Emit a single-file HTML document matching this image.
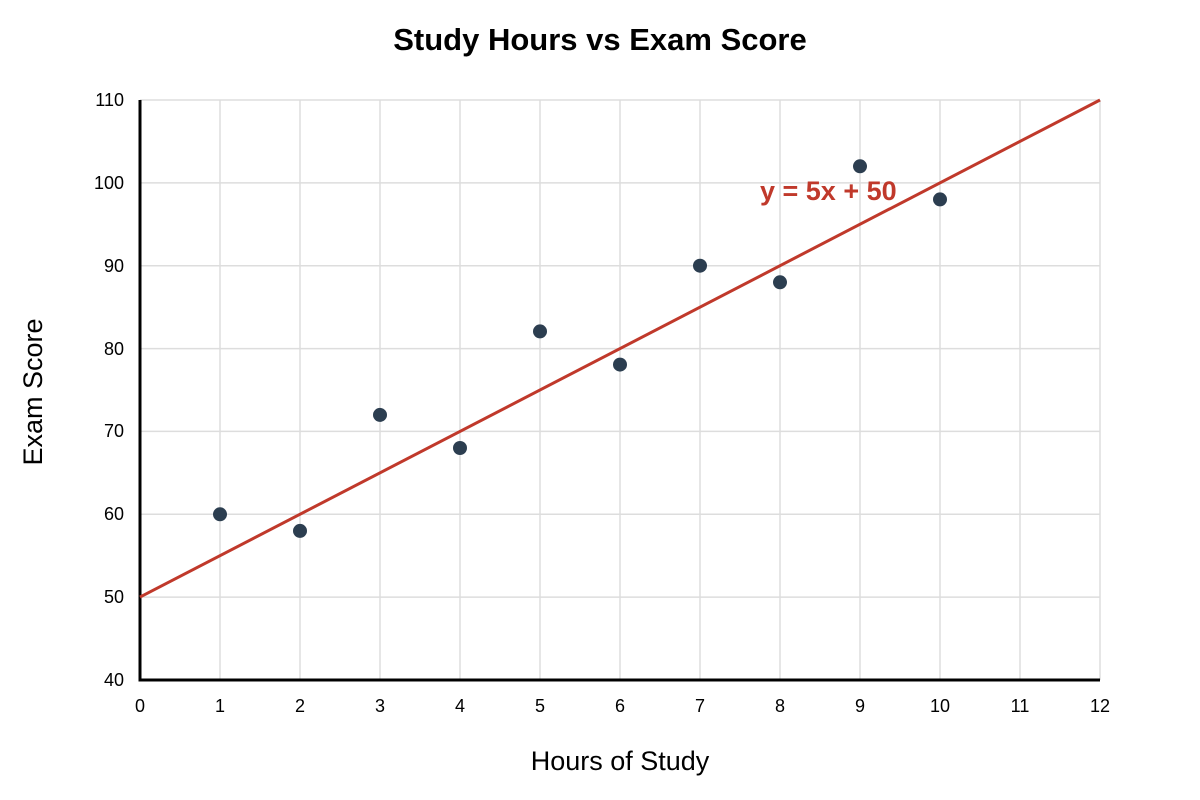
<!DOCTYPE html>
<html><head><meta charset="utf-8"><style>body{margin:0;background:#fff}svg{display:block}</style></head>
<body>
<svg width="1200" height="800" xmlns="http://www.w3.org/2000/svg" font-family="Liberation Sans, Arial, sans-serif">
<rect width="1200" height="800" fill="#fff"/>
<g stroke="#dddddd" stroke-width="1.5">
<line x1="220" y1="100" x2="220" y2="680"/><line x1="300" y1="100" x2="300" y2="680"/><line x1="380" y1="100" x2="380" y2="680"/><line x1="460" y1="100" x2="460" y2="680"/><line x1="540" y1="100" x2="540" y2="680"/><line x1="620" y1="100" x2="620" y2="680"/><line x1="700" y1="100" x2="700" y2="680"/><line x1="780" y1="100" x2="780" y2="680"/><line x1="860" y1="100" x2="860" y2="680"/><line x1="940" y1="100" x2="940" y2="680"/><line x1="1020" y1="100" x2="1020" y2="680"/><line x1="1100" y1="100" x2="1100" y2="680"/>
<line x1="140" y1="100" x2="1100" y2="100"/><line x1="140" y1="182.9" x2="1100" y2="182.9"/><line x1="140" y1="265.7" x2="1100" y2="265.7"/><line x1="140" y1="348.6" x2="1100" y2="348.6"/><line x1="140" y1="431.4" x2="1100" y2="431.4"/><line x1="140" y1="514.3" x2="1100" y2="514.3"/><line x1="140" y1="597.1" x2="1100" y2="597.1"/>
</g>
<g stroke="#000" stroke-width="3"><line x1="140" y1="100" x2="140" y2="681.5"/><line x1="138.5" y1="680" x2="1100" y2="680"/></g>
<line x1="140" y1="597.1" x2="1100" y2="100" stroke="#c0392b" stroke-width="3"/>
<g fill="#2c3e50">
<circle cx="220" cy="514.3" r="7"/><circle cx="300" cy="530.9" r="7"/><circle cx="380" cy="414.9" r="7"/><circle cx="460" cy="448" r="7"/><circle cx="540" cy="331.4" r="7"/><circle cx="620" cy="364.6" r="7"/><circle cx="700" cy="265.7" r="7"/><circle cx="780" cy="282.3" r="7"/><circle cx="860" cy="166.3" r="7"/><circle cx="940" cy="199.4" r="7"/>
</g>
<g font-size="18" fill="#000" text-anchor="middle">
<text x="140" y="712">0</text><text x="220" y="712">1</text><text x="300" y="712">2</text><text x="380" y="712">3</text><text x="460" y="712">4</text><text x="540" y="712">5</text><text x="620" y="712">6</text><text x="700" y="712">7</text><text x="780" y="712">8</text><text x="860" y="712">9</text><text x="940" y="712">10</text><text x="1020" y="712">11</text><text x="1100" y="712">12</text>
</g>
<g font-size="18" fill="#000" text-anchor="end">
<text x="124" y="106">110</text><text x="124" y="189">100</text><text x="124" y="272">90</text><text x="124" y="355">80</text><text x="124" y="437">70</text><text x="124" y="520">60</text><text x="124" y="603">50</text><text x="124" y="686">40</text>
</g>
<text x="620" y="770" font-size="27" text-anchor="middle">Hours of Study</text>
<text transform="translate(42,392) rotate(-90)" font-size="27" text-anchor="middle">Exam Score</text>
<text x="600" y="50" font-size="31" font-weight="bold" text-anchor="middle">Study Hours vs Exam Score</text>
<text x="760" y="200" font-size="27" font-weight="bold" fill="#c0392b">y = 5x + 50</text>
</svg>
</body></html>
